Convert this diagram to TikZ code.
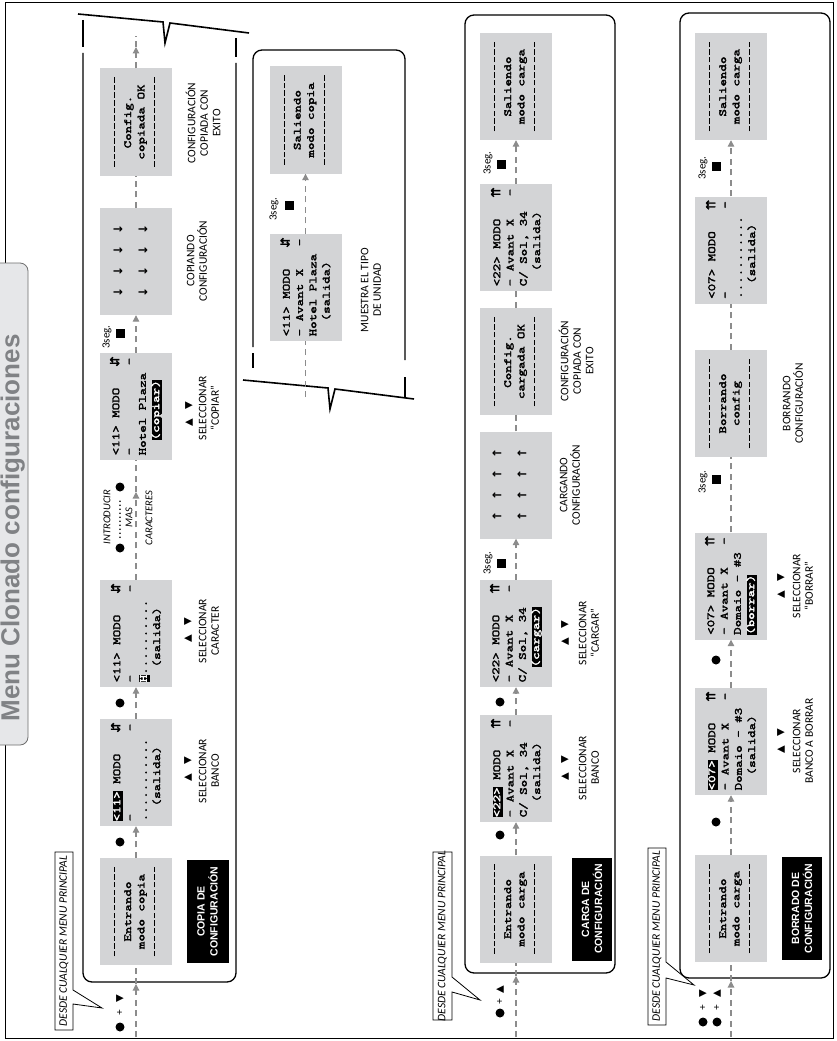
\documentclass[tikz,border=0pt]{standalone}
\usepackage{fontspec}
\usetikzlibrary{arrows.meta}
\setmainfont{Liberation Sans}
\newfontfamily\lblf{Carlito}
\newfontfamily\bldf{Liberation Sans}
\newfontfamily\djv{DejaVu Sans}
\newfontfamily\djvb{DejaVu Sans}[FakeBold=2]
\newfontfamily\lcdf{lmmono10-regular.otf}[FakeBold=2.4,FakeStretch=1.3]
\definecolor{lcdg}{HTML}{D3D4D6}
\definecolor{flowg}{HTML}{8C8C8C}
\definecolor{tabg}{HTML}{E6E7E9}
\definecolor{tabl}{HTML}{6E6E6E}
\definecolor{titg}{HTML}{808285}
\newcommand\lcdfont{\lcdf\fontsize{11}{13.3}\selectfont}
\newsavebox\hlbox
\newcommand\hlt[1]{\sbox\hlbox{\textcolor{white}{#1}}\makebox[0pt][l]{\rule[-2.8pt]{\wd\hlbox}{10.4pt}}\usebox\hlbox}
\newcommand\dashrow{\leavevmode\hbox to 92pt{\xleaders\hbox to 7.66pt{\hss\rule[2.6pt]{5.6pt}{0.9pt}\hss}\hfill}}
\newcommand\aUD{\makebox[7.5pt]{\djvb\fontsize{12.5}{12.5}\selectfont ⇵}}
\newcommand\aUU{\makebox[7.5pt]{\djvb\fontsize{12.5}{12.5}\selectfont ⇈}}
\newcommand\dRow{↓\hspace{11pt}↓\hspace{11pt}↓\hspace{11pt}↓}
\newcommand\uRow{↑\hspace{11pt}↑\hspace{11pt}↑\hspace{11pt}↑}
\begin{document}
\begin{tikzpicture}[x=1pt,y=-1pt,
  lcdbox/.style={fill=lcdg,rotate=90,minimum width=107pt,minimum height=72pt,inner sep=0pt,align=left,font=\lcdfont},
  lcdtxt/.style={lcdbox,align=center},
  arrnode/.style={rotate=90,inner sep=0pt,align=center,font=\djv\bfseries\fontsize{12}{25}\selectfont},
  flowln/.style={draw=flowg,line width=1.2pt,dash pattern=on 6pt off 4.5pt},
  arrtip/.style={-{Triangle[length=6.5pt,width=6.5pt]}},
  secline/.style={draw=black,line width=1.3pt},
  zzline/.style={draw=black,line width=1.6pt,line join=miter},
  bdot/.style={circle,fill=black,inner sep=0pt,minimum size=9pt},
  bsq/.style={fill=black,inner sep=0pt,minimum size=9pt},
  seclbl/.style={rotate=90,inner sep=0pt,font=\lblf\fontsize{11}{11}\selectfont},
  lbl/.style={rotate=90,inner sep=0pt,align=center,font=\lblf\fontsize{11.5}{12.5}\selectfont},
  lbli/.style={rotate=90,inner sep=0pt,font=\lblf\itshape\fontsize{10.5}{10.5}\selectfont},
  blkbox/.style={rotate=90,fill=black,text=white,align=center,inner sep=0pt,minimum width=103pt,minimum height=42pt,font=\bldf\bfseries\fontsize{10.5}{13}\selectfont},
  trinode/.style={rotate=90,inner sep=0pt,font=\djv\fontsize{10}{10}\selectfont},
  plusnode/.style={rotate=90,inner sep=0pt,font=\bldf\fontsize{10}{10}\selectfont},
  callout/.style={draw=black,line width=0.8pt,fill=white,line join=miter},
  desde/.style={rotate=90,inner sep=0pt,font=\lblf\itshape\fontsize{11.5}{11.5}\selectfont}
]
\useasboundingbox (0,0) rectangle (836,1041);
\fill[white] (0,0) rectangle (836,1041);
\draw[line width=0.9pt] (5.5,2) rectangle (833,1038);
% title tab
\draw[fill=tabg,draw=tabl,line width=0.8pt,rounded corners=8pt] (-6,263) -- (28,263) -- (28,745) -- (-6,745);
\node[rotate=90,inner sep=0pt,font=\bldf\bfseries\fontsize{26}{26}\selectfont,text=titg] (title) at (12.8,528) {Menu Clonado configuraciones};

%================ SECTION 1 : COPIA ================
\draw[secline,rounded corners=9pt] (83,53) -- (83,982) -- (236,982) -- (236,63);
\draw[secline] (83,20) -- (83,47);
\draw[secline] (236,38) -- (236,57);
\draw[zzline] (78,14) -- (163,22) -- (165,43) -- (170,23) -- (249,33);

\node[lcdtxt] (c1) at (136,911.5) {\dashrow\\Entrando\\modo~copia\\\dashrow};
\node[lcdbox] (c2) at (136,772.5) {\hlt{<11>}~MODO~~~\aUD\\-~~~~~~~~~~~-\\...........\\\phantom{xx}(salida)};
\node[lcdbox] (c3) at (136,633.5) {<11>~MODO~~~\aUD\\-~~~~~~~~~~~-\\\hlt{H}..........\\\phantom{xx}(salida)};
\node[lcdbox] (c4) at (136,406.5) {<11>~MODO~~~\aUD\\-~~~~~~~~~~~-\\Hotel~Plaza\\\phantom{xx}\hlt{(copiar)}};
\node[lcdbox] (c5) at (136,261.5) {};
\node[arrnode] (c5a) at (130.5,261) {\dRow\\\dRow};
\node[lcdtxt] (c6) at (136,122) {\dashrow\\Config.\\copiada~OK\\\dashrow};

\coordinate (in1) at (136,1037);
\coordinate (in1b) at (136,984);
\draw[flowln,arrtip] (in1) -- (in1b);
\draw[flowln] (in1b) -- (c1.west);
\draw[flowln,arrtip] (c1.east) -- (c2.west);
\draw[flowln,arrtip] (c2.east) -- (c3.west);
\coordinate (mid1) at (136,492);
\draw[flowln,arrtip] (c3.east) -- (mid1);
\draw[flowln] (mid1) -- (c4.west);
\draw[flowln,arrtip] (c4.east) -- (c5.west);
\draw[flowln] (c5.east) -- (c6.west);
\coordinate (out1) at (136,47);
\coordinate (out1b) at (136,36);
\draw[flowln,arrtip] (c6.east) -- (out1);
\draw[flowln] (out1) -- (out1b);

\node[bdot] (b11) at (120,842) {};
\node[bdot] (b12) at (120,703) {};
\node[bdot] (b13) at (120,548) {};
\node[bdot] (b14) at (120,487) {};
\draw[line width=1.7pt,line cap=round,dash pattern=on 0pt off 4pt,shorten <=6pt,shorten >=6pt] (b13) -- (b14);
\node[lbli] (ti1) at (107,517) {INTRODUCIR};
\node[lbli] (ti2) at (129,518) {MAS};
\node[lbli] (ti3) at (149,518) {CARACTERES};
\node[seclbl] (s11) at (107,337) {3seg.};
\node[bsq] (q11) at (120.5,333) {};

\node[blkbox] (k1) at (207.5,911.5) {COPIA DE\\CONFIGURACIÓN};
\node[trinode] (u12) at (188,769) {▲\hspace{9pt}▼};
\node[lbl] (l12) at (209,771) {SELECCIONAR\\BANCO};
\node[trinode] (u13) at (188,630) {▲\hspace{9pt}▼};
\node[lbl] (l13) at (209,631) {SELECCIONAR\\CARACTER};
\node[trinode] (u14) at (189,414) {▲\hspace{9pt}▼};
\node[lbl] (l14) at (209,408) {SELECCIONAR\\“COPIAR”};
\node[lbl] (l15) at (197,261) {COPIANDO\\CONFIGURACIÓN};
\node[lbl] (l16) at (203,123) {CONFIGURACIÓN\\COPIADA CON\\EXITO};

\node[bdot] (e11) at (120,1027) {};
\node[plusnode] (e12) at (120,1013) {+};
\node[trinode] (e13) at (120,999) {▼};
\draw[callout] (55,852) -- (73,852) -- (73,990) -- (102,1008) -- (73,1004) -- (73,1030) -- (55,1030) -- cycle;
\node[desde] (d1) at (64,941) {DESDE CUALQUIER MENU PRINCIPAL};

%================ MUESTRA panel ================
\draw[secline,rounded corners=9pt] (253,347) -- (253,50) -- (405,50) -- (405,360);
\draw[secline] (253,353) -- (253,368);
\draw[secline] (405,377) -- (405,398);
\draw[zzline] (243,380) -- (328,388) -- (330,409) -- (335,389) -- (414,399);
\node[lcdbox] (m1) at (305.5,287.5) {<11>~MODO~~~\aUD\\-~Avant~X~~~-\\Hotel~Plaza\\\phantom{xx}(salida)};
\node[lcdtxt] (m2) at (305.5,120) {\dashrow\\Saliendo\\modo~copia\\\dashrow};
\coordinate (min) at (305.5,397);
\draw[flowln] (min) -- (m1.west);
\draw[flowln,arrtip] (m1.east) -- (m2.west);
\node[seclbl] (s21) at (274,209) {3seg.};
\node[bsq] (q21) at (289,205) {};
\node[lbl] (l21) at (371,290) {MUESTRA EL TIPO\\DE UNIDAD};

%================ SECTION 2 : CARGA ================
\draw[secline,rounded corners=9pt] (465,15) rectangle (615,973);
\node[lcdtxt] (g1) at (516,909) {\dashrow\\Entrando\\modo~carga\\\dashrow};
\node[lcdbox] (g2) at (516,768.5) {\hlt{<22>}~MODO~~~\aUU\\-~Avant~X~~~-\\C/~Sol,~34\\\phantom{xx}(salida)};
\node[lcdbox] (g3) at (516,633.5) {<22>~MODO~~~\aUU\\-~Avant~X~~~-\\C/~Sol,~34\\\phantom{xx}\hlt{(cargar)}};
\node[lcdbox] (g4) at (516,485) {};
\node[arrnode] (g4a) at (509.5,485) {\uRow\\\uRow};
\node[lcdtxt] (g5) at (516,361.5) {\dashrow\\Config.\\cargada~OK\\\dashrow};
\node[lcdbox] (g6) at (516,237.5) {<22>~MODO~~~\aUU\\-~Avant~X~~~-\\C/~Sol,~34\\\phantom{xx}(salida)};
\node[lcdtxt] (g7) at (516,86.5) {\dashrow\\Saliendo\\modo~carga\\\dashrow};

\coordinate (in2) at (516,1037);
\coordinate (in2b) at (516,976);
\draw[flowln,arrtip] (in2) -- (in2b);
\draw[flowln] (in2b) -- (g1.west);
\draw[flowln,arrtip] (g1.east) -- (g2.west);
\draw[flowln,arrtip] (g2.east) -- (g3.west);
\draw[flowln,arrtip] (g3.east) -- (g4.west);
\draw[flowln] (g4.east) -- (g5.west);
\draw[flowln] (g5.east) -- (g6.west);
\draw[flowln,arrtip] (g6.east) -- (g7.west);

\node[bdot] (b21) at (500,835) {};
\node[bdot] (b22) at (500,702) {};
\node[seclbl] (s22) at (488,563) {3seg.};
\node[bsq] (q22) at (501,563) {};
\node[seclbl] (s23) at (488,163) {3seg.};
\node[bsq] (q23) at (501,164) {};

\node[blkbox,minimum height=40pt] (k2) at (592,909) {CARGA DE\\CONFIGURACIÓN};
\node[trinode] (u22) at (565,768) {▲\hspace{9pt}▼};
\node[lbl] (l22) at (589,768) {SELECCIONAR\\BANCO};
\node[trinode] (u23) at (565,633) {▲\hspace{9pt}▼};
\node[lbl] (l23) at (589,633) {SELECCIONAR\\“CARGAR”};
\node[lbl] (l24) at (570,485) {CARGANDO\\CONFIGURACIÓN};
\node[lbl] (l25) at (576,361) {CONFIGURACIÓN\\COPIADA CON\\EXITO};

\node[bdot] (e21) at (500,1013) {};
\node[plusnode] (e22) at (500,1002) {+};
\node[trinode] (e23) at (500,990) {▲};
\draw[callout] (433,852) -- (452,852) -- (452,977) -- (480,1000) -- (452,992) -- (452,1020) -- (433,1020) -- cycle;
\node[desde] (d2) at (442.5,936) {DESDE CUALQUIER MENU PRINCIPAL};

%================ SECTION 3 : BORRADO ================
\draw[secline,rounded corners=9pt] (680,13) rectangle (830,978);
\node[lcdtxt] (h1) at (731,908.5) {\dashrow\\Entrando\\modo~carga\\\dashrow};
\node[lcdbox] (h2) at (731,741.5) {\hlt{<07>}~MODO~~~\aUU\\-~Avant~X~~~-\\Domaio~-~\#3\\\phantom{xx}(salida)};
\node[lcdbox] (h3) at (731,586) {<07>~MODO~~~\aUU\\-~Avant~X~~~-\\Domaio~-~\#3\\\hlt{(borrar)}};
\node[lcdtxt] (h4) at (731,403.5) {\dashrow\\Borrando\\config\\\dashrow};
\node[lcdbox] (h5) at (731,250) {<07>~MODO~~~\aUU\\-~~~~~~~~~~~-\\...........\\\phantom{xx}(salida)};
\node[lcdtxt] (h6) at (731,86.5) {\dashrow\\Saliendo\\modo~carga\\\dashrow};

\coordinate (in3) at (731,1037);
\coordinate (in3b) at (731,981);
\draw[flowln,arrtip] (in3) -- (in3b);
\draw[flowln] (in3b) -- (h1.west);
\draw[flowln,arrtip] (h1.east) -- (h2.west);
\draw[flowln,arrtip] (h2.east) -- (h3.west);
\draw[flowln] (h3.east) -- (h4.west);
\draw[flowln] (h4.east) -- (h5.west);
\draw[flowln,arrtip] (h5.east) -- (h6.west);

\node[bdot] (b31) at (716,822) {};
\node[bdot] (b32) at (716,660) {};
\node[seclbl] (s31) at (703,482) {3seg.};
\node[bsq] (q31) at (716,479) {};
\node[seclbl] (s32) at (703,168) {3seg.};
\node[bsq] (q32) at (716,166) {};

\node[blkbox,minimum height=40pt] (k3) at (802,908.5) {BORRADO DE\\CONFIGURACIÓN};
\node[trinode] (u32) at (781,741) {▲\hspace{9pt}▼};
\node[lbl] (l32) at (803,741) {SELECCIONAR\\BANCO A BORRAR};
\node[trinode] (u33) at (781,586) {▲\hspace{9pt}▼};
\node[lbl] (l33) at (803,586) {SELECCIONAR\\“BORRAR”};
\node[lbl] (l34) at (793,403.5) {BORRANDO\\CONFIGURACIÓN};

\node[bdot] (e31) at (703,1022) {};
\node[bdot] (e32) at (717,1022) {};
\node[plusnode] (e33) at (703,1008) {+};
\node[plusnode] (e34) at (717,1008) {+};
\node[trinode] (e35) at (703,994) {▼};
\node[trinode] (e36) at (717,994) {▲};
\draw[callout] (648,848) -- (666,848) -- (666,962) -- (694,985) -- (666,978) -- (666,1025) -- (648,1025) -- cycle;
\node[desde] (d3) at (657,936) {DESDE CUALQUIER MENU PRINCIPAL};
\end{tikzpicture}
\end{document}
